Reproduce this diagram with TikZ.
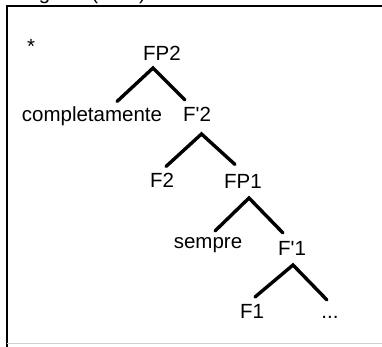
\documentclass[tikz,border=0pt]{standalone}
\usepackage{fontspec}
\setmainfont{Liberation Sans}
\begin{document}
\begin{tikzpicture}[x=1pt,y=-1pt,
  lab/.style={anchor=base,inner sep=0pt,font=\fontsize{20.5}{24}\selectfont},
  branch/.style={line width=3.4pt,line cap=round,line join=miter},
  frameline/.style={line width=2.5pt}]
\useasboundingbox (0,0) rectangle (382,347);
% frame
\coordinate (ftl) at (7,6);
\coordinate (ftr) at (382,6);
\coordinate (fbl) at (7,347);
\coordinate (bl) at (7,343);
\coordinate (br) at (382,343);
\draw[frameline] (ftr) -- (ftl) -- (fbl);
\draw[black!18,line width=1pt] (bl) -- (br);
\node[lab,anchor=base west] (title) at (8,-0.5) {Diagram (36-1)};
% labels
\node[lab] (star) at (31,54) {*};
\node[lab] (fp2) at (162,60.5) {FP2};
\node[lab] (comp) at (92,121.5) {completamente};
\node[lab] (fb2) at (197,122) {F\textquotesingle 2};
\node[lab] (f2) at (162,188) {F2};
\node[lab] (fp1) at (243,189) {FP1};
\node[lab] (sempre) at (208,248) {sempre};
\node[lab] (fb1) at (292,255) {F\textquotesingle 1};
\node[lab] (f1) at (252,318) {F1};
\node[lab] (dots) at (330,318) {...};
% branch points
\coordinate (a2) at (153,68);
\coordinate (a2l) at (117,101.5);
\coordinate (a2r) at (185,100);
\coordinate (b2) at (201.5,134);
\coordinate (b2l) at (166,166.5);
\coordinate (b2r) at (235,164.5);
\coordinate (a1) at (249,198);
\coordinate (a1l) at (215,231);
\coordinate (a1r) at (283,233);
\coordinate (b1) at (293,265);
\coordinate (b1l) at (255,297);
\coordinate (b1r) at (327,300);
\draw[branch] (a2l) -- (a2) -- (a2r);
\draw[branch] (b2l) -- (b2) -- (b2r);
\draw[branch] (a1l) -- (a1) -- (a1r);
\draw[branch] (b1l) -- (b1) -- (b1r);
\end{tikzpicture}
\end{document}
